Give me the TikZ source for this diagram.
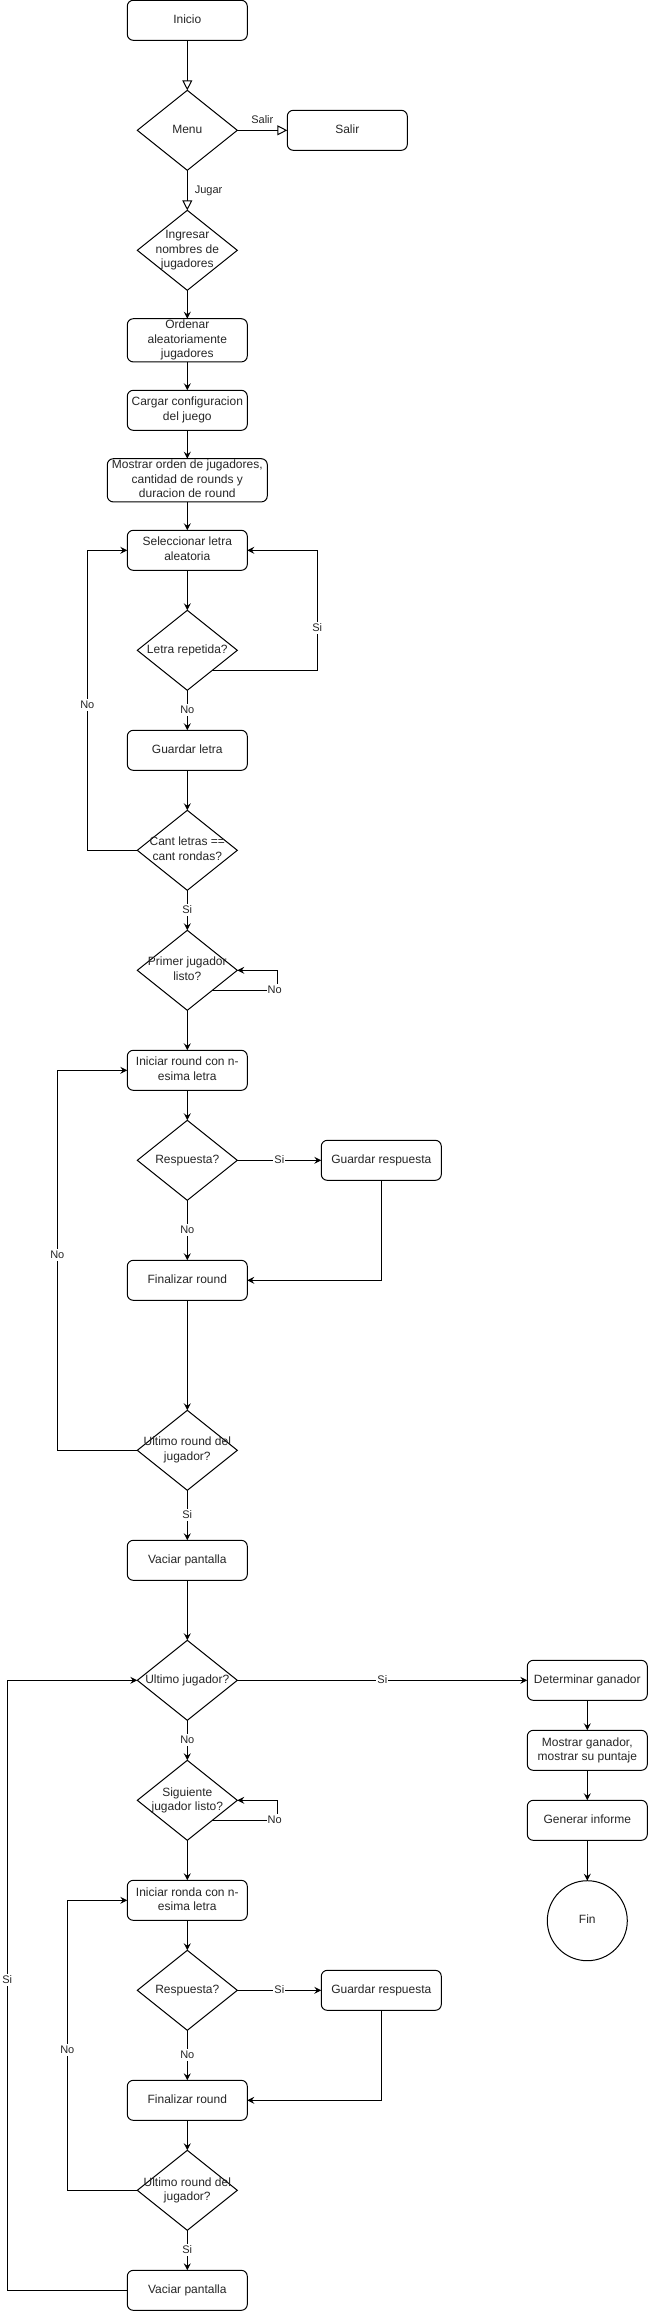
\documentclass[tikz,border=0pt]{standalone}
\usepackage{fontspec}
\setmainfont{Liberation Sans}
\usetikzlibrary{shapes.geometric,arrows.meta,calc}
\newcommand\boxtxt[1]{\makebox[0pt]{\begin{tabular}{@{}c@{}}#1\end{tabular}}}
\colorlet{txt}{black!85}
\tikzset{
  box/.style={draw, rounded corners=6pt, minimum width=120pt, minimum height=40pt, inner sep=0pt, outer sep=0pt, line width=1pt, font=\fontsize{12}{14.4}\selectfont, text=txt},
  dia/.style={draw, diamond, minimum width=100pt, minimum height=80pt, inner sep=0pt, outer sep=0pt, line width=1pt, font=\fontsize{12}{14.4}\selectfont, text=txt},
  circ/.style={draw, circle, minimum size=80pt, inner sep=0pt, outer sep=0pt, line width=1pt, font=\fontsize{12}{14.4}\selectfont, text=txt},
  lbl/.style={font=\fontsize{11}{13}\selectfont, fill=white, inner sep=1pt, text height=8.5pt, text depth=1.5pt, text=txt},
  arr/.style={-{Stealth[length=7pt,width=7pt,inset=2.5pt]}, line width=1pt},
  oarr/.style={-{Triangle[open,length=10pt,width=10pt]}, line width=1pt}
}
\begin{document}
\begin{tikzpicture}[x=1pt,y=-1pt]
\useasboundingbox (0,0) rectangle (648,2311);
% nodes
\node[box] (inicio) at (187.3,20.3) {\boxtxt{Inicio}};
\node[dia] (menu) at (187.3,130.3) {\boxtxt{Menu}};
\node[box] (salir) at (347.3,130.3) {\boxtxt{Salir}};
\node[dia] (ingresar) at (187.3,250.3) {\boxtxt{Ingresar\\nombres de\\jugadores}};
\node[box] (ordenar) at (187.3,340.3) {\boxtxt{Ordenar\\aleatoriamente\\jugadores}};
\node[box] (cargar) at (187.3,410.3) {\boxtxt{Cargar configuracion\\del juego}};
\node[box, minimum width=160pt] (mostrar) at (187.3,480.3) {\boxtxt{Mostrar orden de jugadores,\\cantidad de rounds y\\duracion de round}};
\node[box] (selec) at (187.3,550.3) {\boxtxt{Seleccionar letra\\aleatoria}};
\node[dia] (repetida) at (187.3,650.3) {\boxtxt{Letra repetida?}};
\node[box] (guardarl) at (187.3,750.3) {\boxtxt{Guardar letra}};
\node[dia] (cant) at (187.3,850.3) {\boxtxt{Cant letras ==\\cant rondas?}};
\node[dia] (primer) at (187.3,970.3) {\boxtxt{Primer jugador\\listo?}};
\node[box] (iniciar1) at (187.3,1070.3) {\boxtxt{Iniciar round con n-\\esima letra}};
\node[dia] (resp1) at (187.3,1160.3) {\boxtxt{Respuesta?}};
\node[box] (guardr1) at (381.3,1160.3) {\boxtxt{Guardar respuesta}};
\node[box] (final1) at (187.3,1280.3) {\boxtxt{Finalizar round}};
\node[dia] (ultr1) at (187.3,1450.3) {\boxtxt{Ultimo round del\\jugador?}};
\node[box] (vaciar1) at (187.3,1560.3) {\boxtxt{Vaciar pantalla}};
\node[dia] (ultj) at (187.3,1680.3) {\boxtxt{Ultimo jugador?}};
\node[box] (determ) at (587.3,1680.3) {\boxtxt{Determinar ganador}};
\node[box] (mostrarg) at (587.3,1750.3) {\boxtxt{Mostrar ganador,\\mostrar su puntaje}};
\node[box] (generar) at (587.3,1820.3) {\boxtxt{Generar informe}};
\node[circ] (fin) at (587.3,1920.7) {\boxtxt{Fin}};
\node[dia] (sig) at (187.3,1800.3) {\boxtxt{Siguiente\\jugador listo?}};
\node[box] (iniciar2) at (187.3,1900.3) {\boxtxt{Iniciar ronda con n-\\esima letra}};
\node[dia] (resp2) at (187.3,1990.3) {\boxtxt{Respuesta?}};
\node[box] (guardr2) at (381.3,1990.3) {\boxtxt{Guardar respuesta}};
\node[box] (final2) at (187.3,2100.3) {\boxtxt{Finalizar round}};
\node[dia] (ultr2) at (187.3,2190.3) {\boxtxt{Ultimo round del\\jugador?}};
\node[box] (vaciar2) at (187.3,2290.3) {\boxtxt{Vaciar pantalla}};
% loop start points
\coordinate (repSE) at ($(repetida.east)!0.5!(repetida.south)$);
\coordinate (priSE) at ($(primer.east)!0.5!(primer.south)$);
\coordinate (sigSE) at ($(sig.east)!0.5!(sig.south)$);
% edges
\draw[oarr] (inicio) -- (menu);
\draw[oarr] (menu.east) -- node[lbl, fill=none, pos=0.5, anchor=south, yshift=4pt] {Salir} (salir.west);
\draw[oarr] (menu.south) -- node[lbl, fill=none, pos=0.5, anchor=west, xshift=6pt] {Jugar} (ingresar.north);
\draw[arr] (ingresar) -- (ordenar);
\draw[arr] (ordenar) -- (cargar);
\draw[arr] (cargar) -- (mostrar);
\draw[arr] (mostrar) -- (selec);
\draw[arr] (selec) -- (repetida);
\draw[arr] (repetida) -- node[lbl] {No} (guardarl);
\draw[arr] (repSE) -- ++(105,0) |- node[lbl, pos=0.177] {Si} (selec.east);
\draw[arr] (guardarl) -- (cant);
\draw[arr] (cant.west) -- ++(-50,0) |- node[lbl, pos=0.2417] {No} (selec.west);
\draw[arr] (cant) -- node[lbl] {Si} (primer);
\draw[arr] (priSE) -- node[lbl, pos=0.96] {No} ++(65,0) |- (primer.east);
\draw[arr] (primer) -- (iniciar1);
\draw[arr] (iniciar1) -- (resp1);
\draw[arr] (resp1) -- node[lbl] {Si} (guardr1);
\draw[arr] (resp1) -- node[lbl] {No} (final1);
\draw[arr] (guardr1.south) |- (final1.east);
\draw[arr] (final1) -- (ultr1);
\draw[arr] (ultr1.west) -- ++(-80,0) |- node[lbl, pos=0.2566] {No} (iniciar1.west);
\draw[arr] (ultr1) -- node[lbl] {Si} (vaciar1);
\draw[arr] (vaciar1) -- (ultj);
\draw[arr] (ultj) -- node[lbl] {Si} (determ);
\draw[arr] (determ) -- (mostrarg);
\draw[arr] (mostrarg) -- (generar);
\draw[arr] (generar) -- (fin);
\draw[arr] (ultj) -- node[lbl] {No} (sig);
\draw[arr] (sigSE) -- node[lbl, pos=0.96] {No} ++(65,0) |- (sig.east);
\draw[arr] (sig) -- (iniciar2);
\draw[arr] (iniciar2) -- (resp2);
\draw[arr] (resp2) -- node[lbl] {Si} (guardr2);
\draw[arr] (resp2) -- node[lbl] {No} (final2);
\draw[arr] (guardr2.south) |- (final2.east);
\draw[arr] (final2) -- (ultr2);
\draw[arr] (ultr2.west) -- ++(-70,0) |- node[lbl, pos=0.2414] {No} (iniciar2.west);
\draw[arr] (ultr2) -- node[lbl] {Si} (vaciar2);
\draw[arr] (vaciar2.west) -- ++(-120,0) |- node[lbl, pos=0.254] {Si} (ultj.west);
\end{tikzpicture}
\end{document}
